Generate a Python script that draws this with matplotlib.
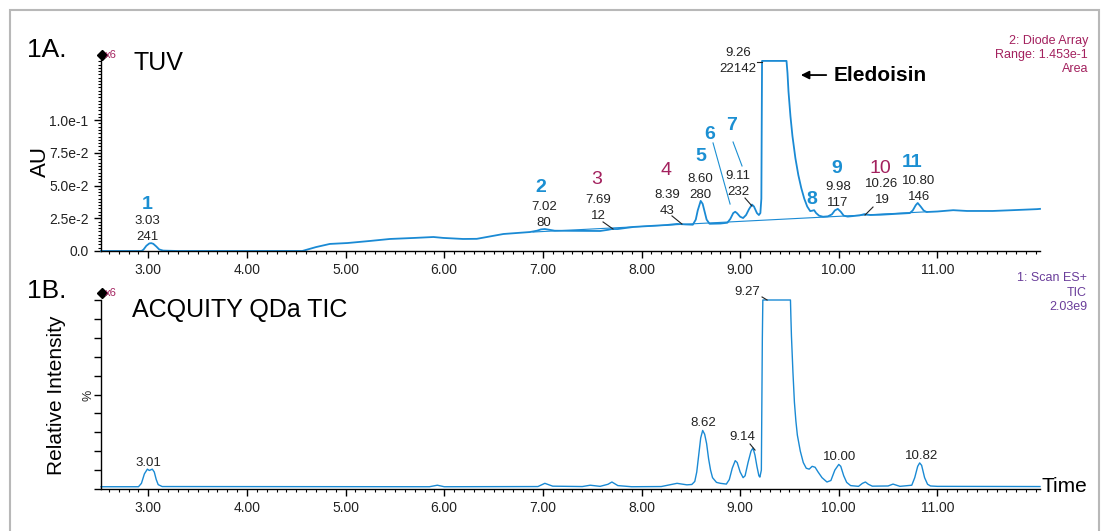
import matplotlib
matplotlib.use('Agg')
import matplotlib.pyplot as plt
from matplotlib.ticker import MultipleLocator
from matplotlib.lines import Line2D
from matplotlib.patches import Rectangle

plt.rcParams['font.family'] = ['Liberation Sans', 'DejaVu Sans']

W, H = 1102, 531
TRACE = '#1a8ad4'
NUM_BLUE = '#1b8fd2'
CRIMSON = '#a3215e'
PURPLE = '#6a3d9a'
INK = '#222222'

# 1A. TUV trace (min, AU)
tuv_time = [2.52, 2.93, 2.95, 2.98, 3.01, 3.03, 3.05, 3.08, 3.11, 3.15, 3.30, 4.56,
            4.70, 4.84, 5.02, 5.25, 5.45, 5.70, 5.89, 5.99, 6.19, 6.33, 6.60, 6.87,
            6.94, 6.98, 7.02, 7.06, 7.12, 7.58, 7.66, 7.70, 7.76, 7.92, 8.26, 8.36,
            8.45, 8.52, 8.55, 8.57, 8.60, 8.62, 8.64, 8.66, 8.69, 8.80, 8.87, 8.90,
            8.93, 8.95, 8.97, 9.00, 9.03, 9.06, 9.09, 9.12, 9.14, 9.17, 9.19, 9.205,
            9.215, 9.222, 9.47, 9.48, 9.49, 9.51, 9.53, 9.56, 9.59, 9.62, 9.65, 9.68,
            9.71, 9.73, 9.75, 9.77, 9.80, 9.84, 9.89, 9.93, 9.96, 9.99, 10.02, 10.05,
            10.09, 10.21, 10.26, 10.32, 10.42, 10.72, 10.75, 10.78, 10.80, 10.83, 10.86,
            10.89, 11.00, 11.16, 11.30, 11.56, 11.76, 12.01, 12.04]
tuv_au = [0.0, 0.0, 0.001, 0.004, 0.0058, 0.006, 0.0055, 0.0035, 0.0012, 0.0003, 0.0, 0.0,
          0.003, 0.0054, 0.0061, 0.0077, 0.0092, 0.0100, 0.0107, 0.0100, 0.0092, 0.0093, 0.0130, 0.0145,
          0.0155, 0.0165, 0.0168, 0.0163, 0.0155, 0.0153, 0.0162, 0.0168, 0.0168, 0.0184, 0.0199, 0.0207,
          0.0203, 0.0201, 0.0240, 0.0310, 0.0383, 0.0360, 0.0300, 0.0240, 0.0208, 0.0210, 0.0216, 0.0245,
          0.0290, 0.0300, 0.0288, 0.0262, 0.0252, 0.0275, 0.0320, 0.0355, 0.0340, 0.0290, 0.0275, 0.0290,
          0.0400, 0.1453, 0.1453, 0.1360, 0.1220, 0.1030, 0.0880, 0.0710, 0.0580, 0.0480, 0.0400, 0.0340,
          0.0305, 0.0308, 0.0312, 0.0290, 0.0270, 0.0262, 0.0265, 0.0280, 0.0310, 0.0322, 0.0300, 0.0270,
          0.0263, 0.0272, 0.0282, 0.0275, 0.0277, 0.0290, 0.0310, 0.0350, 0.0367, 0.0340, 0.0310,
          0.0298, 0.0302, 0.0312, 0.0306, 0.0306, 0.0312, 0.0320, 0.0322]
# integration baseline drawn under the peak cluster
base_time = [6.90, 10.90]
base_au = [0.0145, 0.0300]

# 1B. QDa TIC trace (min, %)
tic_time = [2.52, 2.90, 2.93, 2.96, 2.99, 3.01, 3.04, 3.06, 3.08, 3.10, 3.14, 5.85,
            5.93, 6.00, 6.95, 7.02, 7.10, 7.40, 7.48, 7.58, 7.66, 7.70, 7.76, 7.90,
            8.20, 8.36, 8.46, 8.51, 8.54, 8.56, 8.58, 8.60, 8.62, 8.64, 8.66, 8.68,
            8.70, 8.72, 8.76, 8.80, 8.86, 8.89, 8.92, 8.95, 8.97, 9.00, 9.03, 9.05,
            9.08, 9.11, 9.13, 9.15, 9.17, 9.19, 9.20, 9.215, 9.225, 9.23, 9.51, 9.515,
            9.52, 9.535, 9.55, 9.565, 9.58, 9.61, 9.64, 9.67, 9.70, 9.73, 9.76, 9.79,
            9.83, 9.88, 9.92, 9.96, 10.00, 10.02, 10.05, 10.08, 10.12, 10.20, 10.24,
            10.27, 10.30, 10.34, 10.50, 10.55, 10.62, 10.74, 10.77, 10.80, 10.82, 10.84,
            10.87, 10.90, 10.93, 11.00, 12.04]
tic_pct = [1.2, 1.2, 3.0, 8.0, 10.5, 9.8, 10.5, 9.0, 5.0, 2.3, 1.3, 1.2,
           2.0, 1.2, 1.3, 3.0, 1.5, 1.3, 2.0, 1.4, 2.5, 3.7, 1.8, 1.2,
           1.3, 3.0, 2.2, 2.4, 4.0, 9.0, 18.0, 27.0, 31.0, 29.0, 24.0, 16.0,
           10.0, 6.0, 3.5, 3.0, 2.6, 5.0, 11.0, 15.0, 14.0, 9.0, 6.0, 7.0,
           14.0, 20.0, 21.7, 18.0, 12.0, 7.0, 6.3, 10.0, 80.0, 100.0, 100.0, 90.0,
           81.0, 62.0, 46.0, 36.0, 28.5, 20.0, 14.0, 11.0, 10.5, 12.0, 11.5, 9.0,
           6.0, 3.7, 4.5, 10.0, 13.0, 12.0, 7.0, 3.5, 1.8, 1.4, 3.0,
           3.7, 2.5, 1.5, 1.6, 2.6, 1.4, 2.0, 6.0, 12.0, 13.8, 12.5,
           6.0, 2.5, 1.6, 1.4, 1.3]

x_ticks = [3, 4, 5, 6, 7, 8, 9, 10, 11]
x_labels = ['3.00', '4.00', '5.00', '6.00', '7.00', '8.00', '9.00', '10.00', '11.00']
au_ticks = [0.0, 0.025, 0.05, 0.075, 0.1]
au_labels = ['0.0', '2.5e-2', '5.0e-2', '7.5e-2', '1.0e-1']

peak_ids = ['1', '2', '3', '4', '5', '6', '7', '8', '9', '10', '11']
tuv_rt = ['3.03', '7.02', '7.69', '8.39', '8.60', '9.11', '9.26', '9.98', '10.26', '10.80']
tuv_area = ['241', '80', '12', '43', '280', '232', '22142', '117', '19', '146']
tic_rt = ['3.01', '8.62', '9.14', '9.27', '10.00', '10.82']

# layout of labels (time, value)
id_pos = [(2.986, 0.0359), (6.981, 0.0489), (7.549, 0.0550), (8.249, 0.0619),
          (8.604, 0.0726), (8.695, 0.0894), (8.908, 0.0963), (9.729, 0.0397),
          (9.982, 0.0634), (10.418, 0.0627), (10.743, 0.0680)]
rt_pos = [(2.986, 0.0229), (7.011, 0.0336), (7.559, 0.0390), (8.259, 0.0428),
          (8.594, 0.0550), (8.979, 0.0573), (8.979, 0.1514), (9.992, 0.0489),
          (10.438, 0.0512), (10.814, 0.0535)]
area_dy = 0.0125
tuv_leaders = [((7.610, 0.0222), (7.711, 0.0168), INK),
               ((8.309, 0.0268), (8.410, 0.0206), INK),
               ((8.725, 0.0826), (8.898, 0.0359), NUM_BLUE),
               ((8.928, 0.0833), (9.019, 0.0650), NUM_BLUE),
               ((9.049, 0.0405), (9.120, 0.0344), INK),
               ((9.171, 0.1445), (9.226, 0.1445), INK),
               ((10.347, 0.0336), (10.266, 0.0275), INK)]
tic_pos = [(2.997, 13.8), (8.624, 34.9), (9.019, 27.5), (9.070, 104.2), (10.003, 16.9), (10.844, 17.5)]
tic_leaders = [((9.100, 23.8), (9.151, 20.6)), ((9.222, 101.6), (9.273, 100.0))]


def px(x, y):
    return x / W, 1 - y / H


def style_axis(ax):
    for s in ['top', 'right']:
        ax.spines[s].set_visible(False)
    for s in ['left', 'bottom']:
        ax.spines[s].set_color('black')
        ax.spines[s].set_linewidth(1.0)
        ax.spines[s].set_zorder(5)
    ax.set_xlim(2.52, 12.04)
    ax.set_xticks(x_ticks)
    ax.set_xticklabels(x_labels)
    ax.xaxis.set_minor_locator(MultipleLocator(0.1))
    ax.tick_params(axis='both', which='major', direction='out', length=5, width=1,
                   labelsize=10, colors='black', labelcolor=INK, pad=4)
    ax.tick_params(axis='both', which='minor', direction='out', length=2.5, width=0.8)
    ax.set_facecolor('none')


fig = plt.figure(figsize=(W / 100, H / 100), dpi=100)

# ---- 1A TUV ----
ax1 = fig.add_axes([101 / W, 1 - 251 / H, 939 / W, 191 / H])
style_axis(ax1)
ax1.set_ylim(0, 0.146)
ax1.set_yticks(au_ticks)
ax1.set_yticklabels(au_labels)
ax1.yaxis.set_minor_locator(MultipleLocator(0.0025))
ax1.plot(base_time, base_au, color=TRACE, lw=0.8, clip_on=False)
ax1.plot(tuv_time, tuv_au, color=TRACE, lw=1.3, clip_on=False, solid_joinstyle='round')

for pid, (t, v) in zip(peak_ids, id_pos):
    crimson = pid in ('3', '4', '10')
    ax1.text(t, v, pid, ha='center', va='center', fontsize=14,
             fontweight='normal' if crimson else 'bold',
             color=CRIMSON if crimson else NUM_BLUE)
for rt, area, (t, v) in zip(tuv_rt, tuv_area, rt_pos):
    ax1.text(t, v, rt, ha='center', va='center', fontsize=9.5, color=INK, clip_on=False)
    ax1.text(t, v - area_dy, area, ha='center', va='center', fontsize=9.5, color=INK, clip_on=False)
for a, b, c in tuv_leaders:
    ax1.plot([a[0], b[0]], [a[1], b[1]], color=c, lw=0.8, clip_on=False)

ax1.annotate('', xy=(9.587, 0.1345), xytext=(9.901, 0.1345),
             arrowprops=dict(arrowstyle='-|>', color='black', lw=1.3, mutation_scale=12),
             annotation_clip=False)
ax1.text(9.952, 0.1345, 'Eledoisin', ha='left', va='center', fontsize=15,
         fontweight='bold', color='black', clip_on=False)

# ---- 1B QDa TIC ----
ax2 = fig.add_axes([101 / W, 1 - 489 / H, 939 / W, 189 / H])
style_axis(ax2)
ax2.set_ylim(0, 100)
ax2.yaxis.set_major_locator(MultipleLocator(10))
ax2.set_yticklabels(['0.0'] + [''] * 10)
ax2.plot(tic_time, tic_pct, color=TRACE, lw=1.0, clip_on=False)
for rt, (t, p) in zip(tic_rt, tic_pos):
    ax2.text(t, p, rt, ha='center', va='center', fontsize=9.5, color=INK, clip_on=False)
for (a, b) in tic_leaders:
    ax2.plot([a[0], b[0]], [a[1], b[1]], color=INK, lw=0.8, clip_on=False)

# ---- panel texts ----
fig.text(*px(47, 50), '1A.', fontsize=19, ha='center', va='center')
fig.text(*px(133, 63), 'TUV', fontsize=18, ha='left', va='center')
fig.text(*px(40, 161), 'AU', fontsize=16, ha='center', va='center', rotation=90)
fig.text(*px(47, 291), '1B.', fontsize=19, ha='center', va='center')
fig.text(*px(132, 310), 'ACQUITY QDa TIC', fontsize=18, ha='left', va='center')
fig.text(*px(56, 395), 'Relative Intensity', fontsize=15, ha='center', va='center', rotation=90)
fig.text(*px(88, 395), '%', fontsize=9, ha='center', va='center', rotation=90, color=INK)
fig.text(*px(1041, 487), 'Time', fontsize=15, ha='left', va='center')

for y in (55, 293):
    fig.add_artist(Line2D([102 / W], [1 - y / H], marker='D', markersize=5,
                          color='black', transform=fig.transFigure))
    fig.text(*px(105, y), 'x6', fontsize=8, color=CRIMSON, ha='left', va='center')

for i, s in enumerate(['2: Diode Array', 'Range: 1.453e-1', 'Area']):
    fig.text(*px(1088, 41 + 14 * i), s, fontsize=9, color=CRIMSON, ha='right', va='center')
for i, s in enumerate(['1: Scan ES+', 'TIC', '2.03e9']):
    fig.text(*px(1087, 278 + 14.5 * i), s, fontsize=9, color=PURPLE, ha='right', va='center')

fig.add_artist(Rectangle((10 / W, -0.05), 1089 / W, 1.05 - 10 / H, transform=fig.transFigure,
                         fill=False, edgecolor='#b8b8b8', lw=1.5))

fig.savefig('out.png', dpi=100)
